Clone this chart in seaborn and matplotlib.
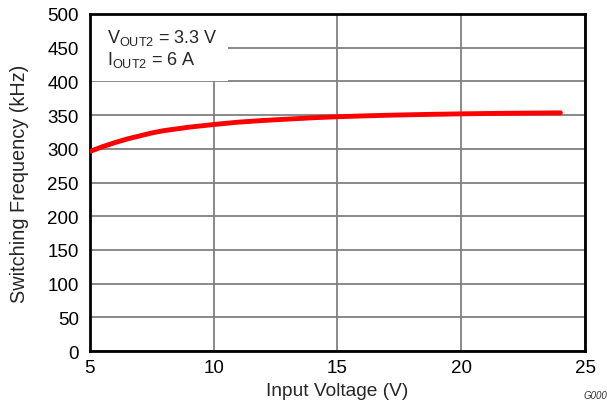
import pandas as pd
import matplotlib.pyplot as plt
import seaborn as sns
from matplotlib.patches import Rectangle

# data
vin = [5, 5.5, 6, 6.5, 7, 7.5, 8, 9, 10, 11, 12, 13, 14, 15, 16, 17, 18, 19, 20, 21, 22, 23, 24]
fsw = [296, 303, 309, 314.5, 319, 323.5, 327, 332, 336, 339.5, 342, 344, 346, 347.5,
       348.7, 349.7, 350.5, 351.2, 351.8, 352.3, 352.7, 353, 353.3]
xticks = [5, 10, 15, 20, 25]
yticks = list(range(0, 501, 50))

sns.set_theme(style="white")
plt.rcParams['font.family'] = ['Liberation Sans', 'DejaVu Sans']
plt.rcParams['mathtext.fontset'] = 'custom'
plt.rcParams['mathtext.rm'] = 'Liberation Sans'

df = pd.DataFrame({'Vin': vin, 'Fsw': fsw})

fig = plt.figure(figsize=(6.07, 4.02), dpi=100)
ax = fig.add_axes([0.148, 0.124, 0.816, 0.839])

sns.lineplot(data=df, x='Vin', y='Fsw', color='#ff0000', linewidth=3.5, ax=ax, zorder=4)

ax.set_xlim(5, 25)
ax.set_ylim(0, 500)
ax.set_xticks(xticks)
ax.set_yticks(yticks)
ax.grid(True, color='#808080', linewidth=1.3)
ax.set_axisbelow(True)
ax.tick_params(length=0, labelsize=13.5, colors='black')
ax.tick_params(axis='x', pad=6)
ax.tick_params(axis='y', pad=8)
for s in ax.spines.values():
    s.set_color('black')
    s.set_linewidth(2)

# white box behind the annotation
ax.add_patch(Rectangle((5, 401), 5.56, 99, facecolor='white', edgecolor='none', zorder=2))
ax.text(5.7, 481, r'V$_{\mathregular{OUT2}}$ = 3.3 V', fontsize=13, va='top', zorder=3)
ax.text(5.7, 448, r'I$_{\mathregular{OUT2}}$ = 6 A', fontsize=13, va='top', zorder=3)

ax.set_xlabel('Input Voltage (V)', fontsize=13.8, labelpad=4)
ax.set_ylabel('Switching Frequency (kHz)', fontsize=14.3, labelpad=13)

fig.text(0.962, 0.003, 'G000', fontsize=7, style='italic', color='#333333', ha='left', va='bottom')

fig.savefig('out.png', dpi=100)
